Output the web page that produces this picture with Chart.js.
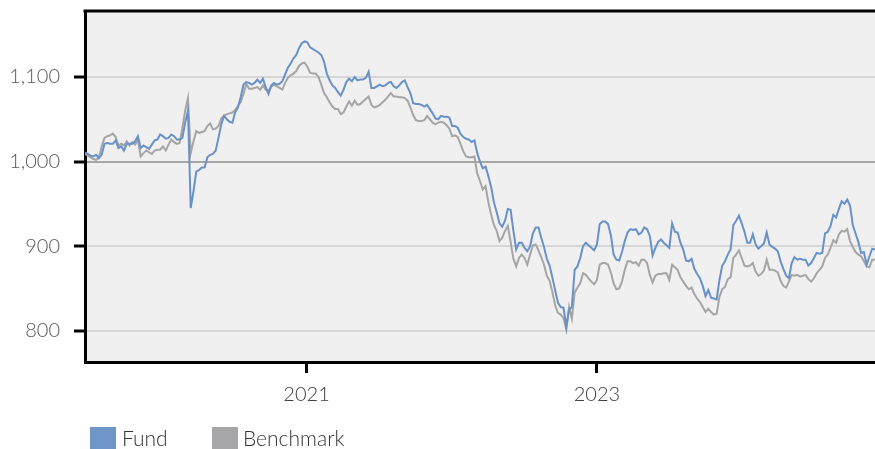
<!DOCTYPE html>
<html>
<head>
<meta charset="utf-8">
<script src="https://cdn.jsdelivr.net/npm/chart.js@4.4.1/dist/chart.umd.min.js"></script>
<style>
html, body { margin: 0; padding: 0; background: #fff; }
#wrap { position: relative; width: 875px; height: 449px; overflow: hidden; }
.sw { position: absolute; top: 427px; width: 26px; height: 22px; }
.lt { position: absolute; top: 427px; font-family: Lato, sans-serif; font-weight: 300; font-size: 21px; line-height: 22px; color: #333; white-space: nowrap; }
</style>
</head>
<body>
<div id="wrap">
  <canvas id="fundChart" width="875" height="449"></canvas>
  <div class="sw" style="left:90px;background:#7096c8"></div>
  <div class="lt" style="left:122px">Fund</div>
  <div class="sw" style="left:212px;background:#a6a6a8"></div>
  <div class="lt" style="left:243px">Benchmark</div>
</div>
<script>
// weekly values, first week 2019-06-23
const startDate = Date.UTC(2019, 5, 23);

const fund = [
    1011,1009,1007,1006,1008,1004,1008,1021,1022,1021,
    1021,1025,1016,1018,1013,1021,1021,1021,1024,1030,
    1016,1019,1017,1015,1020,1025,1026,1032,1030,1027,
    1028,1032,1030,1026,1026,1028,1046,1060,945,965,
    988,990,993,993,1005,1008,1009,1013,1028,1044,
    1054,1050,1047,1046,1058,1064,1076,1091,1094,1093,
    1091,1093,1097,1093,1098,1088,1080,1090,1093,1091,
    1092,1095,1103,1111,1116,1122,1126,1134,1140,1142,
    1141,1135,1133,1131,1129,1126,1118,1104,1096,1090,
    1087,1082,1078,1085,1094,1098,1095,1100,1096,1097,
    1097,1099,1106,1087,1087,1089,1091,1089,1090,1093,
    1094,1089,1087,1090,1094,1096,1088,1081,1069,1068,
    1068,1067,1065,1067,1062,1057,1051,1050,1054,1053,
    1053,1052,1042,1042,1040,1033,1029,1027,1026,1023,
    1025,1010,1000,992,994,983,970,952,940,927,
    923,930,944,943,918,896,904,904,898,894,
    900,915,922,922,910,899,885,877,863,848,
    833,828,827,805,825,828,872,876,886,900,
    904,901,898,895,902,926,929,929,926,913,
    890,884,883,893,906,916,920,919,920,914,
    916,922,920,912,889,898,905,908,904,901,
    898,927,917,916,904,896,883,882,885,873,
    867,862,853,841,848,839,838,837,860,877,
    882,890,896,925,930,936,927,917,904,904,
    914,902,897,900,903,916,902,899,897,894,
    882,873,865,862,880,887,884,885,884,884,
    877,880,886,892,891,892,915,917,924,937,
    934,944,953,950,955,948,925,915,905,892,
    893,878,888,897,896
];

const benchmark = [
    1009,1007,1005,1003,1002,1005,1018,1028,1030,1031,
    1033,1029,1019,1021,1019,1024,1019,1023,1020,1026,
    1006,1010,1013,1011,1009,1013,1014,1014,1018,1013,
    1020,1026,1023,1021,1022,1040,1060,1075,1010,1024,
    1036,1034,1035,1036,1042,1045,1038,1039,1042,1051,
    1054,1056,1057,1058,1061,1066,1070,1080,1092,1086,
    1086,1087,1088,1085,1090,1085,1084,1088,1091,1089,
    1087,1085,1093,1099,1102,1104,1107,1113,1116,1117,
    1112,1105,1104,1104,1100,1091,1081,1076,1070,1065,
    1062,1062,1056,1058,1065,1071,1066,1072,1067,1068,
    1071,1074,1077,1067,1064,1065,1067,1070,1073,1077,
    1081,1077,1077,1076,1076,1075,1072,1064,1055,1049,
    1048,1048,1049,1054,1050,1046,1044,1046,1047,1046,
    1043,1039,1030,1031,1029,1021,1012,1006,1005,1005,
    1006,986,977,967,971,952,937,925,918,906,
    910,918,924,905,885,876,886,890,886,878,
    890,901,902,895,887,878,865,859,846,830,
    821,819,815,801,828,814,845,851,856,868,
    866,862,858,855,860,878,880,880,878,869,
    856,849,850,858,872,882,882,880,881,877,
    884,884,880,866,857,865,867,867,868,868,
    860,878,875,872,863,858,853,849,851,843,
    838,834,828,822,826,822,819,820,840,849,
    852,861,863,886,890,895,886,877,876,877,
    880,870,865,867,871,884,872,872,871,869,
    859,853,851,858,866,865,866,864,865,866,
    861,858,862,868,872,876,886,890,898,907,
    904,914,918,917,920,906,899,893,890,888,
    882,876,875,884,884
];

const xTicks = [2021, 2023];
const yTicks = [800, 900, 1000, 1100];

function toYear(ms) {
    const y = new Date(ms).getUTCFullYear();
    const a = Date.UTC(y, 0, 1), b = Date.UTC(y + 1, 0, 1);
    return y + (ms - a) / (b - a);
}

const dates = fund.map((v, i) => toYear(startDate + i * 7 * 864e5));

const plotFrame = {
    id: 'plotFrame',
    beforeDraw(chart) {
        const a = chart.chartArea, ctx = chart.ctx;
        ctx.save();
        ctx.fillStyle = '#f0f0f0';
        ctx.fillRect(a.left, a.top, a.right - a.left, a.bottom - a.top);
        ctx.restore();
    },
    afterDraw(chart) {
        const a = chart.chartArea, ctx = chart.ctx;
        ctx.save();
        ctx.strokeStyle = '#000';
        ctx.lineWidth = 3;
        ctx.beginPath();
        ctx.moveTo(a.left - 1.5, a.top);
        ctx.lineTo(a.right, a.top);
        ctx.stroke();
        ctx.restore();
    }
};

const tickFont = { family: 'Lato, sans-serif', size: 20, weight: '300' };

new Chart(document.getElementById('fundChart'), {
    type: 'line',
    data: {
        labels: dates,
        datasets: [{
            label: 'Fund',
            data: fund.map((v, i) => ({ x: dates[i], y: v })),
            borderColor: '#6891c8',
            borderWidth: 2,
            pointRadius: 0,
            fill: false,
        }, {
            label: 'Benchmark',
            data: benchmark.map((v, i) => ({ x: dates[i], y: v })),
            borderColor: '#a5a5a5',
            borderWidth: 2,
            pointRadius: 0,
            fill: false,
        }]
    },
    options: {
        responsive: false,
        animation: false,
        layout: { padding: { top: 11, right: 0, bottom: 0, left: 0 } },
        plugins: {
            legend: { display: false },
            tooltip: { enabled: false },
        },
        scales: {
            x: {
                type: 'linear',
                min: dates[0],
                max: dates[dates.length - 1],
                afterBuildTicks: axis => { axis.ticks = xTicks.map(v => ({ value: v })); },
                afterFit: axis => {
                    axis.height = 87;
                    axis.paddingLeft = 0;
                    axis.paddingRight = 0;
                },
                grid: { drawOnChartArea: false, drawTicks: true, tickLength: 11, tickColor: '#000', tickWidth: 3 },
                border: { display: true, color: '#000', width: 3 },
                ticks: { color: '#404040', font: tickFont, padding: 10, maxRotation: 0, callback: v => String(v) },
            },
            y: {
                min: 763,
                max: 1178,
                afterBuildTicks: axis => { axis.ticks = yTicks.map(v => ({ value: v })); },
                afterFit: axis => {
                    axis.width = 85;
                    axis.paddingTop = 0;
                    axis.paddingBottom = 0;
                },
                grid: {
                    color: c => (c.tick && c.tick.value === 1000) ? '#a6a6a6' : '#d6d6d6',
                    lineWidth: 2,
                    drawTicks: true,
                    tickLength: 11,
                    tickColor: '#000',
                    tickWidth: 3,
                },
                border: { display: true, color: '#000', width: 3 },
                ticks: { color: '#595959', font: tickFont, padding: 14, callback: v => v.toLocaleString('en-US') },
            },
        },
    },
    plugins: [plotFrame],
});
</script>
</body>
</html>
